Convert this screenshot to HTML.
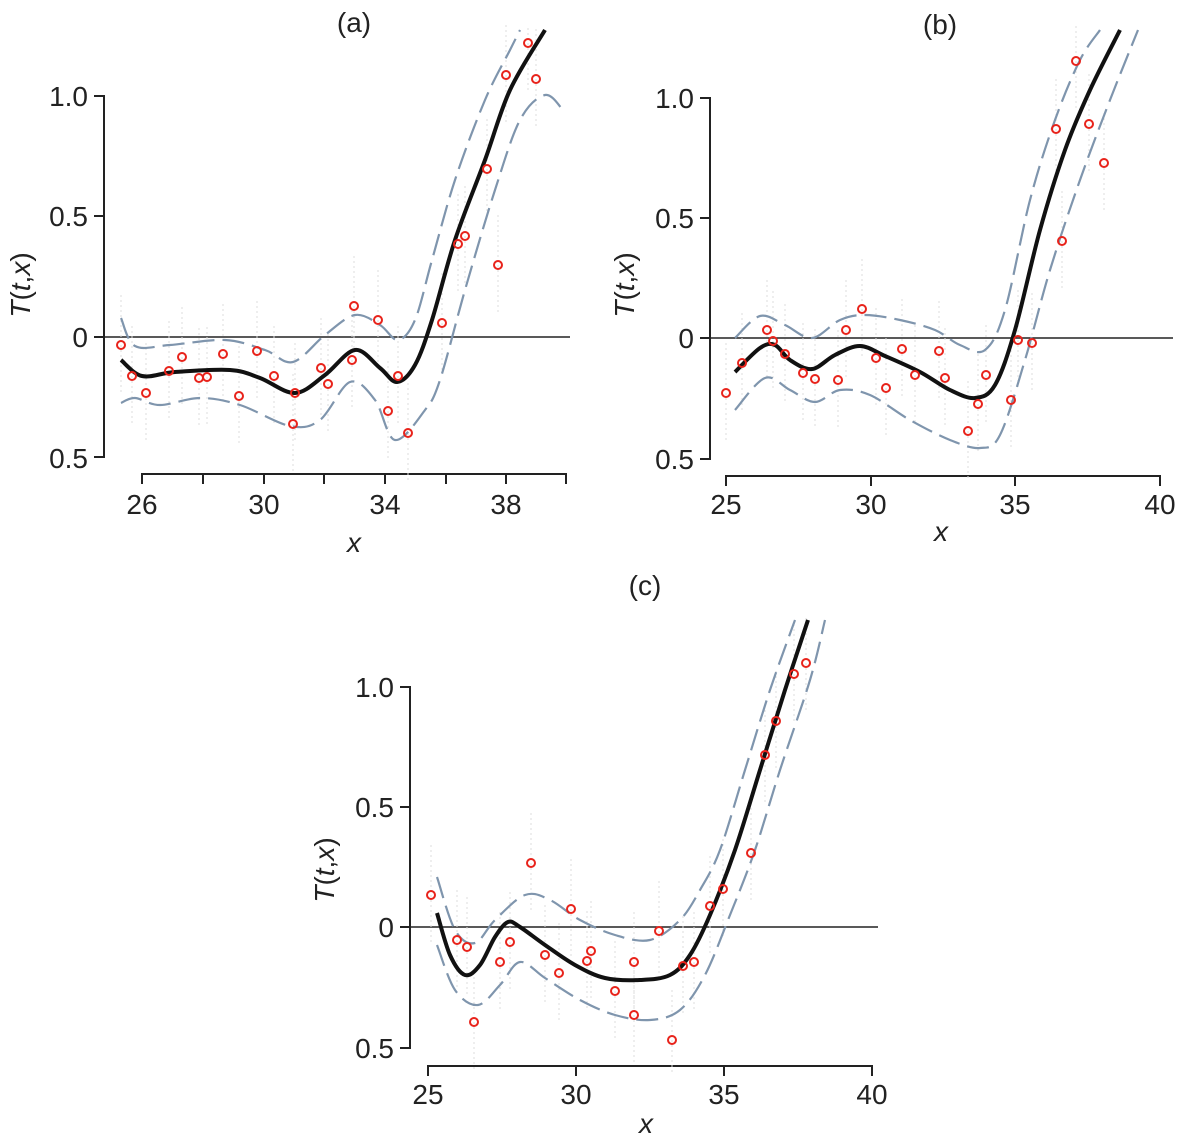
<!DOCTYPE html>
<html><head><meta charset="utf-8"><style>
html,body{margin:0;padding:0;background:#fff;}
svg{display:block;font-family:"Liberation Sans",sans-serif;}
text{fill:#222;}
.ax{stroke:#222;stroke-width:2;fill:none;}
.zl{stroke:#222;stroke-width:1.5;}
.bk{stroke:#111;stroke-width:4;fill:none;stroke-linejoin:round;}
.ds{stroke:#7f95ad;stroke-width:2.2;fill:none;stroke-dasharray:22,8;}
.pt{stroke:#e8231b;stroke-width:2;fill:none;}
.tl{font-size:28px;}
</style></head><body>
<svg id="s" width="1179" height="1141" viewBox="0 0 1179 1141" xmlns="http://www.w3.org/2000/svg">
<defs>
<clipPath id="ca"><rect x="100" y="25" width="480" height="460"/></clipPath>
<clipPath id="cb"><rect x="705" y="25" width="474" height="460"/></clipPath>
<clipPath id="cc"><rect x="405" y="615" width="480" height="460"/></clipPath>
</defs>
<text x="354" y="32" class="tl" text-anchor="middle">(a)</text>
<path class="ax" d="M94,96H104V457H94M94,216H104M94,337H104"/>
<line class="zl" x1="104" y1="337" x2="570" y2="337"/>
<path class="ax" d="M142,484V474H566V484M203,474V484M264,474V484M324,474V484M385,474V484M446,474V484M506,474V484"/>
<g class="tl" text-anchor="end"><text x="88" y="106">1.0</text><text x="88" y="226">0.5</text><text x="88" y="347">0</text><text x="88" y="468">0.5</text></g>
<g class="tl" text-anchor="middle"><text x="142" y="514">26</text><text x="264" y="514">30</text><text x="385" y="514">34</text><text x="506" y="514">38</text></g>
<text x="354" y="552" class="tl" text-anchor="middle" font-style="italic">x</text>
<text transform="translate(30,285) rotate(-90)" class="tl" text-anchor="middle"><tspan font-style="italic">T</tspan>(<tspan font-style="italic">t</tspan>,<tspan font-style="italic">x</tspan>)</text>
<g clip-path="url(#ca)" id="ga"></g>
<text x="940" y="34" class="tl" text-anchor="middle">(b)</text>
<path class="ax" d="M700,98H710V459H700M700,218H710M700,338H710"/>
<line class="zl" x1="710" y1="338" x2="1173" y2="338"/>
<path class="ax" d="M726,486V476H1160V486M871,476V486M1015,476V486"/>
<g class="tl" text-anchor="end"><text x="694" y="108">1.0</text><text x="694" y="228">0.5</text><text x="694" y="348">0</text><text x="694" y="469">0.5</text></g>
<g class="tl" text-anchor="middle"><text x="726" y="514">25</text><text x="871" y="514">30</text><text x="1015" y="514">35</text><text x="1160" y="514">40</text></g>
<text x="941" y="541" class="tl" text-anchor="middle" font-style="italic">x</text>
<text transform="translate(634,285) rotate(-90)" class="tl" text-anchor="middle"><tspan font-style="italic">T</tspan>(<tspan font-style="italic">t</tspan>,<tspan font-style="italic">x</tspan>)</text>
<g clip-path="url(#cb)" id="gb"></g>
<text x="645" y="595" class="tl" text-anchor="middle">(c)</text>
<path class="ax" d="M400,687H410V1048H400M400,807H410M400,927H410"/>
<line class="zl" x1="410" y1="927" x2="878" y2="927"/>
<path class="ax" d="M428,1076V1066H872V1076M576,1066V1076M724,1066V1076"/>
<g class="tl" text-anchor="end"><text x="394" y="697">1.0</text><text x="394" y="817">0.5</text><text x="394" y="937">0</text><text x="394" y="1058">0.5</text></g>
<g class="tl" text-anchor="middle"><text x="428" y="1104">25</text><text x="576" y="1104">30</text><text x="724" y="1104">35</text><text x="872" y="1104">40</text></g>
<text x="646" y="1133" class="tl" text-anchor="middle" font-style="italic">x</text>
<text transform="translate(334,870) rotate(-90)" class="tl" text-anchor="middle"><tspan font-style="italic">T</tspan>(<tspan font-style="italic">t</tspan>,<tspan font-style="italic">x</tspan>)</text>
<g clip-path="url(#cc)" id="gc"></g>
</svg>
<script>
function cr(p){var d="M"+p[0][0]+","+p[0][1];for(var i=0;i<p.length-1;i++){var a=p[i-1]||p[i],b=p[i],c=p[i+1],e=p[i+2]||c;d+="C"+(b[0]+(c[0]-a[0])/6)+","+(b[1]+(c[1]-a[1])/6)+" "+(c[0]-(e[0]-b[0])/6)+","+(c[1]-(e[1]-b[1])/6)+" "+c[0]+","+c[1];}return d;}
function draw(id,pts,bk,up,lo){var g=document.getElementById(id);var h="";
pts.forEach(function(q){h+='<line x1="'+q[0]+'" y1="'+(q[1]-50)+'" x2="'+q[0]+'" y2="'+(q[1]+50)+'" stroke="#ddd" stroke-width="1" stroke-dasharray="2,3"/>';});
h+='<path class="ds" d="'+cr(up)+'"/><path class="ds" d="'+cr(lo)+'"/><path class="bk" d="'+cr(bk)+'"/>';
pts.forEach(function(q){h+='<circle class="pt" cx="'+q[0]+'" cy="'+q[1]+'" r="4"/>';});
g.innerHTML=h;}
draw("ga",[[121,345],[132,376],[146,393],[169,371],[182,357],[199,378],[207,377],[223,354],[239,396],[257,351],[274,376],[293,424],[295,393],[321,368],[328,384],[352,360],[354,306],[378,320],[388,411],[398,376],[408,433],[442,323],[458,244],[465,236],[487,169],[498,265],[506,75],[528,43],[536,79]],
[[121,360],[142,376],[175,372],[230,370],[260,378],[295,393],[325,375],[355,350],[380,368],[397,382],[415,365],[432,320],[455,240],[485,160],[510,90],[545,30]],
[[121,318],[135,346],[170,345],[225,340],[265,350],[293,362],[325,335],[355,315],[380,325],[398,340],[415,320],[432,260],[455,180],[485,100],[510,50],[520,30]],
[[121,403],[135,398],[160,405],[200,398],[240,405],[290,426],[320,420],[350,382],[375,400],[395,440],[425,410],[440,380],[465,290],[495,190],[520,120],[545,95],[563,110]]);
draw("gb",[[726,393],[742,363],[767,330],[773,341],[785,354],[803,373],[815,379],[838,380],[846,330],[862,309],[876,358],[886,388],[902,349],[915,375],[939,351],[945,378],[968,431],[978,404],[986,375],[1011,400],[1018,340],[1032,343],[1056,129],[1062,241],[1076,61],[1089,124],[1104,163]],
[[735,372],[760,348],[775,345],[790,360],[812,369],[835,355],[860,346],[885,356],[920,372],[950,390],[975,398],[995,385],[1015,330],[1040,230],[1065,150],[1090,90],[1120,30]],
[[735,338],[760,316],[785,325],[812,338],[840,320],[865,315],[900,320],[935,330],[960,345],[985,350],[1005,310],[1030,200],[1055,120],[1080,60],[1100,30]],
[[735,410],[765,378],[790,390],[815,402],[840,390],[870,395],[910,420],[950,440],[980,448],[1000,435],[1025,360],[1050,270],[1080,180],[1110,100],[1138,30]]);
draw("gc",[[431,895],[457,940],[467,947],[474,1022],[500,962],[510,942],[531,863],[545,955],[559,973],[571,909],[587,961],[591,951],[615,991],[634,962],[634,1015],[659,931],[672,1040],[683,966],[694,962],[710,906],[723,889],[751,853],[765,755],[776,721],[794,674],[806,663]],
[[437,913],[450,955],[465,975],[480,965],[495,937],[508,922],[520,927],[545,945],[575,965],[605,978],[640,980],[670,975],[690,955],[710,915],[735,850],[760,770],[785,690],[808,620]],
[[437,877],[455,930],[475,943],[495,920],[525,895],[550,900],[580,920],[615,935],[650,940],[680,920],[700,890],[720,850],[745,770],[770,690],[795,620]],
[[437,945],[455,990],[478,1005],[500,985],[520,962],[545,978],[580,1000],[615,1015],[650,1020],[680,1010],[705,975],[730,915],[755,850],[780,770],[810,680],[825,620]]);
</script>
</body></html>
